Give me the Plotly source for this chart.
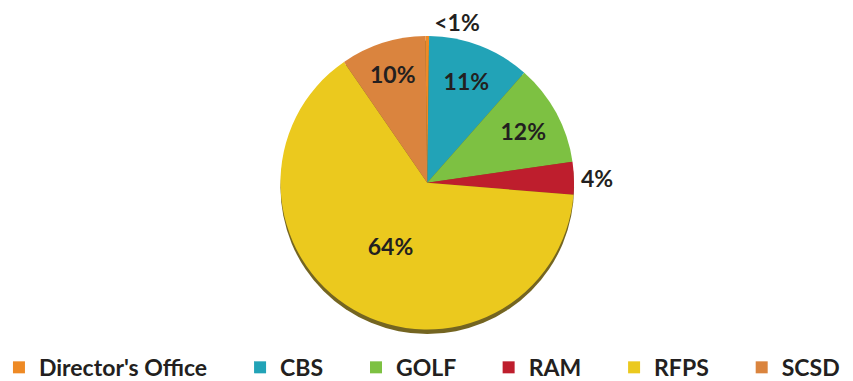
import plotly.graph_objects as go

categories = ["Director's Office", "CBS", "GOLF", "RAM", "RFPS", "SCSD"]
values = [0.4, 11.3, 11.2, 3.6, 64.1, 9.4]
label_text = ["<1%", "11%", "12%", "4%", "64%", "10%"]
colors = ["#EE8A25", "#22A3B7", "#7DC142", "#BE1E2D", "#EBC91E", "#DA843E"]
text_pos = ["outside", "inside", "inside", "outside", "inside", "inside"]

font_family = "Lato, 'Open Sans', sans-serif"
total = sum(values)
# invisible spacing after each legend entry (except the last) to spread the legend row
legend_pad = "\u00a0" * 5
legend_names = [c + (legend_pad if i < len(categories) - 1 else "") for i, c in enumerate(categories)]

fig = go.Figure()

# shadow disc under the pie
fig.add_trace(go.Pie(
    values=[1], labels=["shadow"], marker=dict(colors=["#746521"]),
    textinfo="none", hoverinfo="skip", showlegend=False, sort=False,
    domain=dict(x=[0, 0.983], y=[0, 0.985]),
))

fig.add_trace(go.Pie(
    labels=legend_names, values=values, text=label_text,
    texttemplate="%{text}", textposition=text_pos,
    marker=dict(colors=colors, line=dict(width=0)),
    sort=False, direction="clockwise",
    rotation=-values[0] / total * 180,
    textfont=dict(family=font_family, size=23, color="#231F20", weight="bold"),
    insidetextorientation="horizontal",
    domain=dict(x=[0, 0.983], y=[0.015, 1]),
    hoverinfo="label+percent",
))

fig.update_layout(
    width=853, height=381,
    paper_bgcolor="white", plot_bgcolor="white",
    margin=dict(l=0, r=0, t=28, b=55, autoexpand=False),
    showlegend=True,
    legend=dict(
        orientation="h", x=-0.0106, xanchor="left", y=-0.112, yanchor="middle",
        bgcolor="rgba(0,0,0,0)",
        font=dict(family=font_family, size=23, color="#231F20", weight="bold"),
        traceorder="normal",
    ),
)

fig.write_html("out.html")
